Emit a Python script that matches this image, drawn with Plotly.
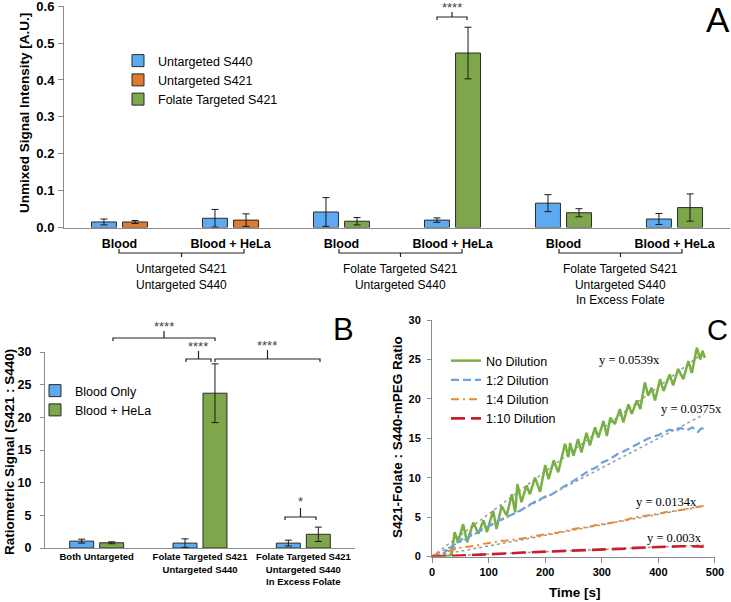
import plotly.graph_objects as go

W, H = 731, 602

# ---------------- Panel A data ----------------
a_tick_labels = ["Blood", "Blood + HeLa", "Blood", "Blood + HeLa", "Blood", "Blood + HeLa"]
a_group_labels = ["Untargeted S421<br>Untargeted S440",
                  "Folate Targeted S421<br>Untargeted S440",
                  "Folate Targeted S421<br>Untargeted S440<br>In Excess Folate"]
a_yticks = [0.0, 0.1, 0.2, 0.3, 0.4, 0.5, 0.6]
a_s440_x = [0, 1, 2, 3, 4, 5]
a_s440 = [0.015, 0.025, 0.042, 0.020, 0.066, 0.023]
a_s440_err = [0.008, 0.024, 0.039, 0.006, 0.023, 0.015]
a_s421_x = [0, 1]
a_s421 = [0.015, 0.020]
a_s421_err = [0.004, 0.017]
a_fol_x = [2, 3, 4, 5]
a_fol = [0.017, 0.473, 0.040, 0.054]
a_fol_err = [0.010, 0.070, 0.011, 0.037]

# ---------------- Panel B data ----------------
b_labels = ["Both Untargeted",
            "Folate Targeted S421<br>Untargeted S440",
            "Folate Targeted S421<br>Untargeted S440<br>In Excess Folate"]
b_yticks = [0, 5, 10, 15, 20, 25, 30]
b_x = [0, 1, 2]
b_blood = [1.05, 0.75, 0.75]
b_blood_err = [0.3, 0.65, 0.45]
b_hela = [0.8, 23.7, 2.1]
b_hela_err = [0.15, 4.5, 1.1]

# ---------------- Panel C data ----------------
c_xticks = [0, 100, 200, 300, 400, 500]
c_yticks = [0, 5, 10, 15, 20, 25, 30]
c_no_t = [0, 10, 20, 30, 35, 40, 46, 55, 62, 73, 82, 91, 97, 108, 114, 123, 132, 141, 147, 151,
          158, 167, 173, 182, 191, 200, 206, 215, 223, 235, 241, 244, 250, 258, 264, 273, 279,
          288, 294, 303, 309, 315, 323, 332, 338, 347, 353, 362, 368, 376, 382, 388, 394, 403,
          409, 420, 426, 435, 444, 453, 459, 468, 474, 478, 482]
c_no_v = [0, 0, 0, 0.1, 0.3, 3.1, 1.8, 4.1, 1.8, 4.3, 2.9, 4.6, 3.1, 5.8, 3.5, 6.4, 5.2, 7.9, 5.6, 9.2,
          6.9, 9.0, 7.9, 10.0, 8.2, 11.6, 9.8, 12.2, 10.7, 14.3, 12.6, 14.4, 12.8, 14.9, 13.2, 15.7, 14.1,
          16.4, 15.1, 17.2, 15.3, 17.6, 16.8, 18.7, 17.0, 19.3, 18.1, 19.8, 18.7, 22.1, 20.4, 21.4, 19.8, 22.5,
          21.0, 23.1, 21.7, 23.8, 22.5, 24.8, 23.3, 26.5, 25.0, 26.1, 25.2]
c_12_t = [0, 10, 15, 20, 25, 30, 35, 40, 45, 50, 55, 60, 70, 80, 90, 100, 110, 120, 130, 140, 150,
          160, 170, 180, 190, 200, 210, 220, 230, 240, 250, 260, 270, 280, 290, 300, 310, 320, 330,
          340, 350, 360, 370, 380, 390, 400, 410, 420, 430, 440, 450, 460, 470, 475, 480]
c_12_v = [0, 0.1, 0.4, 0.2, 0.8, 0.6, 1.3, 1.1, 1.8, 1.9, 2.4, 2.2, 2.8, 3.1, 3.6, 3.8, 4.3, 4.6, 5.0, 5.3, 5.6,
          6.0, 6.5, 6.9, 7.2, 7.6, 7.8, 8.3, 8.8, 9.2, 9.6, 10.1, 10.6, 11.0, 11.3, 11.9, 12.2, 12.7, 13.1,
          13.4, 13.8, 14.2, 14.6, 14.9, 15.2, 15.4, 15.8, 16.1, 15.9, 16.3, 16.0, 16.4, 15.8, 16.2, 16.3]
c_14_t = [0, 5, 10, 15, 20, 25, 30, 40, 50, 60, 70, 80, 90, 100, 110, 120, 130, 140, 150, 160, 170, 180,
          190, 200, 210, 220, 230, 240, 250, 260, 270, 280, 290, 300, 310, 320, 330, 340, 350, 360, 370,
          380, 390, 400, 410, 420, 430, 440, 450, 460, 470, 480]
c_14_v = [0, 0.2, 0.5, 0.6, 0.4, 0.5, 0.7, 0.9, 1.1, 1.2, 1.3, 1.4, 1.6, 1.7, 1.8, 2.0, 2.0, 2.1, 2.2, 2.3,
          2.4, 2.6, 2.7, 2.8, 2.9, 3.0, 3.2, 3.3, 3.5, 3.6, 3.7, 3.8, 4.0, 4.1, 4.2, 4.3, 4.5, 4.6, 4.8,
          5.0, 5.1, 5.2, 5.3, 5.4, 5.6, 5.7, 5.8, 5.9, 6.0, 6.1, 6.3, 6.4]
c_110_t = [0, 20, 40, 60, 80, 100, 120, 140, 160, 180, 200, 220, 240, 260, 280, 300, 320, 340, 360,
           380, 400, 420, 440, 460, 480]
c_110_v = [0, 0, 0.1, 0.15, 0.2, 0.3, 0.35, 0.4, 0.5, 0.55, 0.6, 0.65, 0.75, 0.8, 0.85, 0.9, 0.95,
           1.0, 1.1, 1.15, 1.25, 1.3, 1.3, 1.3, 1.25]
c_names = ["No Dilution", "1:2 Dilution", "1:4 Dilution", "1:10 Dilution"]
c_slopes = [0.0539, 0.0375, 0.0134, 0.003]
c_eq_labels = ["y = 0.0539x", "y = 0.0375x", "y = 0.0134x", "y = 0.003x"]
c_fit_t = [0, 480]

# ---------------- styling ----------------
BLUE = "#5DAAF2"
ORANGE = "#E07A2E"
GREEN = "#7EA64A"
C_COLORS = ["#78B044", "#6AA2E2", "#E98B33", "#C8202A"]
C_DASH = ["solid", "8px,4px", "8px,4px,2px,4px", "14px,6px"]
C_WIDTH = [2.5, 2.2, 2.0, 2.6]
FONT = "Liberation Sans, Arial, sans-serif"


def px(x):
    return x / W


def py(y):
    return 1 - y / H


fig = go.Figure()

bar_line = dict(color="#2a2a2a", width=1)
eb = dict(type="data", color="#1a1a1a", thickness=1, width=3.5)

# Panel A bars
BW_A = 0.225
fig.add_trace(go.Bar(x=a_s440_x, y=a_s440, name="Untargeted S440", marker=dict(color=BLUE, line=bar_line),
                     width=BW_A, offset=-0.14 - BW_A / 2, error_y=dict(array=a_s440_err, **eb),
                     xaxis="x", yaxis="y", legend="legend"))
fig.add_trace(go.Bar(x=a_s421_x, y=a_s421, name="Untargeted S421", marker=dict(color=ORANGE, line=bar_line),
                     width=BW_A, offset=0.14 - BW_A / 2, error_y=dict(array=a_s421_err, **eb),
                     xaxis="x", yaxis="y", legend="legend"))
fig.add_trace(go.Bar(x=a_fol_x, y=a_fol, name="Folate Targeted S421", marker=dict(color=GREEN, line=bar_line),
                     width=BW_A, offset=0.14 - BW_A / 2, error_y=dict(array=a_fol_err, **eb),
                     xaxis="x", yaxis="y", legend="legend"))

# Panel B bars
BW_B = 0.232
fig.add_trace(go.Bar(x=b_x, y=b_blood, name="Blood Only", marker=dict(color=BLUE, line=bar_line),
                     width=BW_B, offset=-0.145 - BW_B / 2, error_y=dict(array=b_blood_err, **eb),
                     xaxis="x2", yaxis="y2", legend="legend2"))
fig.add_trace(go.Bar(x=b_x, y=b_hela, name="Blood + HeLa", marker=dict(color=GREEN, line=bar_line),
                     width=BW_B, offset=0.145 - BW_B / 2, error_y=dict(array=b_hela_err, **eb),
                     xaxis="x2", yaxis="y2", legend="legend2"))

# Panel C lines
c_series = [(c_no_t, c_no_v), (c_12_t, c_12_v), (c_14_t, c_14_v), (c_110_t, c_110_v)]
for i, (t, v) in enumerate(c_series):
    fig.add_trace(go.Scatter(x=[c_fit_t[0], c_fit_t[1]], y=[0, c_slopes[i] * c_fit_t[1]], mode="lines",
                             line=dict(color="#9a9a9a", width=1.5, dash="dot"), showlegend=False,
                             hoverinfo="skip", xaxis="x3", yaxis="y3"))
for i, (t, v) in enumerate(c_series):
    fig.add_trace(go.Scatter(x=t, y=v, mode="lines", name=c_names[i],
                             line=dict(color=C_COLORS[i], width=C_WIDTH[i], dash=C_DASH[i]),
                             xaxis="x3", yaxis="y3", legend="legend3"))

axis_common = dict(showgrid=False, zeroline=False, automargin=False, linecolor="#8c8c8c", tickcolor="#8c8c8c")

fig.update_layout(
    width=W, height=H, autosize=False,
    margin=dict(l=0, r=0, t=0, b=0),
    paper_bgcolor="white", plot_bgcolor="white",
    font=dict(family=FONT, color="#000"),
    barmode="overlay",
    xaxis=dict(domain=[px(64), px(730)], range=[-0.5, 5.5], showline=True, ticks="",
               tickvals=a_s440_x, ticktext=a_tick_labels, tickfont=dict(size=12.5, weight="bold"),
               ticklabelstandoff=4, anchor="y", **axis_common),
    yaxis=dict(domain=[py(227.5), py(6)], range=[0, 0.6005], tickvals=a_yticks, tickformat=".1f",
               showline=True, ticks="outside", ticklen=5, tickfont=dict(size=13, weight="bold"),
               ticklabelstandoff=1, ticklabeloverflow="allow", anchor="x", **axis_common),
    xaxis2=dict(domain=[px(45), px(355)], range=[-0.5, 2.5], showline=True, ticks="",
                tickvals=b_x, ticktext=b_labels, tickfont=dict(size=9.5, weight="bold"),
                anchor="y2", **axis_common),
    yaxis2=dict(domain=[py(548), py(352)], range=[0, 30.01], tickvals=b_yticks, showline=True,
                ticks="outside", ticklen=4, tickfont=dict(size=12.5, weight="bold"), ticklabelstandoff=6,
                ticklabeloverflow="allow", anchor="x2", **axis_common),
    xaxis3=dict(domain=[px(432), px(715)], range=[0, 500.01], tickvals=c_xticks, showline=True,
                ticks="outside", ticklen=5, tickfont=dict(size=11, weight="bold"),
                ticklabeloverflow="allow", anchor="y3", **axis_common),
    yaxis3=dict(domain=[py(556.5), py(320)], range=[0, 30.01], tickvals=c_yticks, showline=True,
                ticks="outside", ticklen=4, tickfont=dict(size=11, weight="bold"), ticklabelstandoff=4,
                ticklabeloverflow="allow", anchor="x3", **axis_common),
    legend=dict(x=px(118), y=py(46), xanchor="left", yanchor="top", font=dict(size=12.5),
                bgcolor="rgba(0,0,0,0)", itemwidth=30, tracegroupgap=0),
    legend2=dict(x=px(35), y=py(376), xanchor="left", yanchor="top", font=dict(size=12.5),
                 bgcolor="rgba(0,0,0,0)", itemwidth=30, tracegroupgap=0),
    legend3=dict(x=px(446), y=py(346), xanchor="left", yanchor="top", font=dict(size=12.5),
                 bgcolor="rgba(0,0,0,0)", itemwidth=30, tracegroupgap=0),
)

annotations = []
shapes = []


def ann(x, y, text, size, bold=False, angle=0, family=FONT, color="#000", xanchor="center", yanchor="middle"):
    annotations.append(dict(x=px(x), y=py(y), xref="paper", yref="paper", text=text, showarrow=False,
                            textangle=angle, xanchor=xanchor, yanchor=yanchor,
                            font=dict(size=size, family=family, color=color,
                                      weight="bold" if bold else "normal")))


def bracket(x1, x2, yh, yend, ytop, color="#222", width=1.2):
    xm = (x1 + x2) / 2
    path = (f"M{px(x1)},{py(yend)} L{px(x1)},{py(yh)} L{px(x2)},{py(yh)} L{px(x2)},{py(yend)} "
            f"M{px(xm)},{py(yh)} L{px(xm)},{py(ytop)}")
    shapes.append(dict(type="path", path=path, xref="paper", yref="paper",
                       line=dict(color=color, width=width)))


# axis titles
ann(25, 113, "Unmixed Signal Intensity [A.U.]", 13.5, bold=True, angle=-90)
ann(9, 452, "Ratiometric Signal (S421 : S440)", 13.5, bold=True, angle=-90)
ann(397, 437, "S421-Folate : S440-mPEG Ratio", 13.5, bold=True, angle=-90)
ann(575, 592, "Time [s]", 13.5, bold=True)

# panel letters
ann(718, 19, "A", 35)
ann(343, 329, "B", 31)
ann(717, 330, "C", 29)

# group labels and brackets (panel A)
group_x = [(119, 244), (339, 462), (559, 682)]
for (x1, x2), lab in zip(group_x, a_group_labels):
    bracket(x1, x2, 253, 249, 257)
    ann((x1 + x2) / 2, 260, lab, 12, yanchor="top")

# significance (panel A)
bracket(437, 467, 17, 20, 12)
ann(452, 8, "****", 13, color="#444")

# significance (panel B)
bracket(113, 215, 338, 341, 331)
ann(164, 326, "****", 13, color="#444")
bracket(186, 211, 359, 362, 351)
ann(198, 346, "****", 13, color="#444")
bracket(215, 320, 359, 362, 350)
ann(267, 345, "****", 13, color="#444")
bracket(285, 316, 517, 520, 508)
ann(300, 501, "*", 13, color="#444")

# trendline equations (panel C)
eq_pos = [(629, 360), (691, 409), (666, 502), (674, 538)]
for (x, y), lab in zip(eq_pos, c_eq_labels):
    ann(x, y, lab, 12.5, family="Liberation Serif, Times New Roman, serif")

fig.update_layout(annotations=annotations, shapes=shapes)

fig.write_html("out.html", config={"displayModeBar": False},
               post_script="document.body.style.margin='0';")
